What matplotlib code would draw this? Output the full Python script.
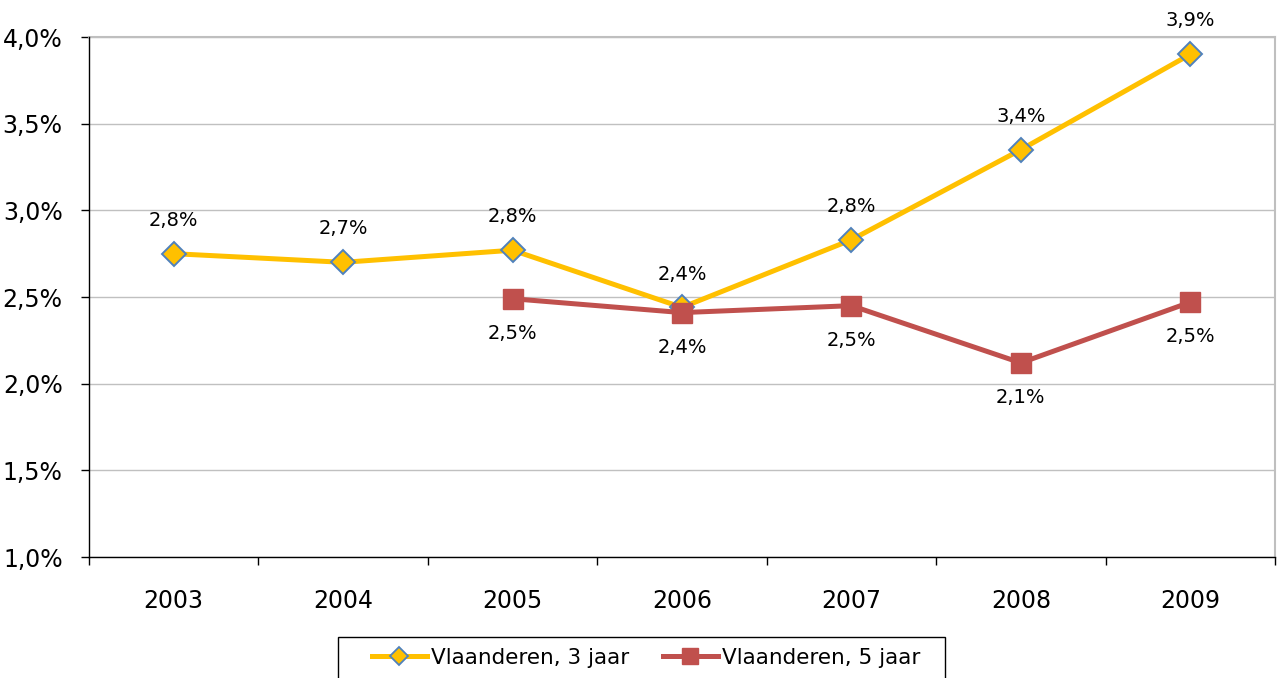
import matplotlib
matplotlib.use("Agg")
import matplotlib.pyplot as plt
from matplotlib.ticker import FixedLocator, FuncFormatter
from matplotlib.patches import Rectangle

years = ["2003", "2004", "2005", "2006", "2007", "2008", "2009"]
vl3 = [2.75, 2.70, 2.77, 2.44, 2.83, 3.35, 3.90]
vl5 = [None, None, 2.49, 2.41, 2.45, 2.12, 2.47]
vl3_labels = ["2,8%", "2,7%", "2,8%", "2,4%", "2,8%", "3,4%", "3,9%"]
vl5_labels = [None, None, "2,5%", "2,4%", "2,5%", "2,1%", "2,5%"]
series_names = ["Vlaanderen, 3 jaar", "Vlaanderen, 5 jaar"]
yticks = [1.0, 1.5, 2.0, 2.5, 3.0, 3.5, 4.0]

plt.rcParams['font.family'] = ['DejaVu Sans']
W, H = 1277, 678
fig = plt.figure(figsize=(W / 100, H / 100), dpi=100)
ax = fig.add_axes([89 / W, 1 - 557 / H, (1275 - 89) / W, (557 - 37) / H])

x = list(range(len(years)))
yellow = "#FFC000"
red = "#C0504D"
blue = "#4F81BD"

ax.plot(x, vl3, color=yellow, lw=3.6, marker="D", ms=12, mfc=yellow, mec=blue,
        mew=1.4, label=series_names[0], zorder=3, solid_joinstyle="round")
x5 = [i for i, v in enumerate(vl5) if v is not None]
y5 = [v for v in vl5 if v is not None]
ax.plot(x5, y5, color=red, lw=3.6, marker="s", ms=14.5, mfc=red, mec=red,
        label=series_names[1], zorder=4, solid_joinstyle="round")

for i, (v, lab) in enumerate(zip(vl3, vl3_labels)):
    ax.annotate(lab, (i, v), xytext=(0, 24), textcoords="offset points",
                ha="center", va="center", fontsize=14, color="black",
                annotation_clip=False)
for i, (v, lab) in enumerate(zip(vl5, vl5_labels)):
    if v is None:
        continue
    ax.annotate(lab, (i, v), xytext=(0, -25), textcoords="offset points",
                ha="center", va="center", fontsize=14, color="black",
                annotation_clip=False)

ax.set_xlim(-0.5, len(years) - 0.5)
ax.set_ylim(1.0, 4.0)
ax.set_yticks(yticks)
ax.yaxis.set_major_formatter(FuncFormatter(lambda v, p: f"{v:.1f}%".replace(".", ",")))
ax.set_xticks(x)
ax.set_xticklabels(years)
ax.xaxis.set_minor_locator(FixedLocator([i - 0.5 for i in range(len(years) + 1)]))
ax.tick_params(axis="x", which="major", length=0, pad=23, labelsize=17)
ax.tick_params(axis="x", which="minor", length=6, width=1, direction="out", color="black")
ax.tick_params(axis="y", which="major", length=6, width=1, direction="out", pad=13,
               labelsize=17)

ax.grid(axis="y", color="#C0C0C0", lw=1)
ax.set_axisbelow(True)
for s in ["top", "right"]:
    ax.spines[s].set_color("#BFBFBF")
    ax.spines[s].set_linewidth(1.5)
for s in ["left", "bottom"]:
    ax.spines[s].set_color("black")
    ax.spines[s].set_linewidth(1)
    ax.spines[s].set_zorder(5)

# legend box
fig.patches.append(Rectangle((338 / W, -0.05), (945 - 338) / W, (0.05 + 1 - 637 / H),
                             transform=fig.transFigure, fill=False,
                             edgecolor="black", lw=1, zorder=1))
leg_handles = [
    plt.Line2D([], [], color=yellow, lw=3.6, marker="D", ms=9, mfc=yellow, mec=blue, mew=1.3),
    plt.Line2D([], [], color=red, lw=3.6, marker="s", ms=11, mfc=red, mec=red),
]
leg = fig.legend(leg_handles, series_names, loc="center left",
                 bbox_to_anchor=(372 / W, 1 - 658 / H), ncol=2, fontsize=15.5,
                 frameon=False, handlelength=2.55, handletextpad=0.2,
                 columnspacing=1.55, borderaxespad=0, borderpad=0)

fig.savefig("out.png", dpi=100)
